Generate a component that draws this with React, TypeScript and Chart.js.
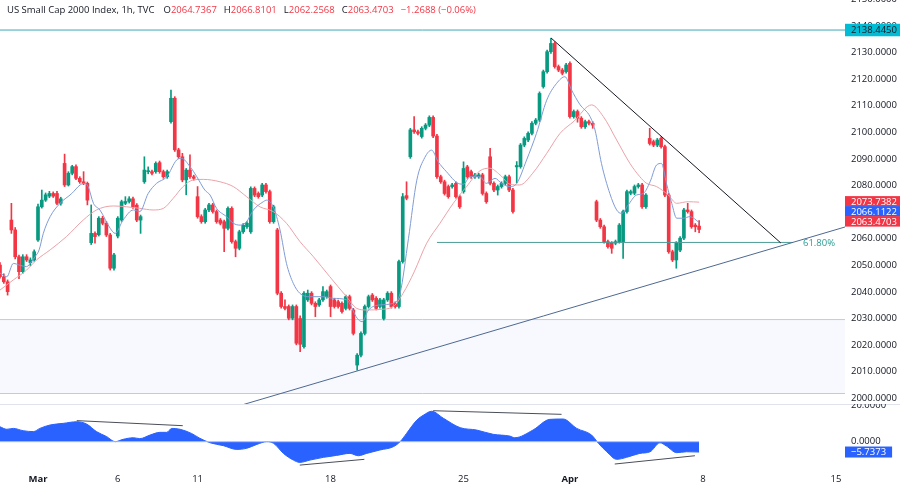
import React, { useEffect, useRef } from 'react';
import { Chart, registerables } from 'chart.js';

Chart.register(...registerables);

const FONT = '"Open Sans", "Noto Sans", sans-serif';
const FS = 9.5;
const TEXT = '#131722';
const GREEN = '#089981';
const RED = '#f23645';
const TAG_BLUE = '#2962ff';
const TAG_CYAN = '#00bcd4';

// ---------- data ----------
const FIRST_BAR = -10; // bar index of first candle (0 = first bar of 1 March)

const opens = [2050.1,2045.7,2043.8,2067.0,2063.3,2053.2,2047.6,2053.2,2051.0,2052.0,
 2059.5,2072.0,2074.5,2076.0,2077.0,2077.0,2073.3,2088.3,2080.2,2084.6,
 2087.1,2082.7,2081.4,2080.8,2058.5,2062.0,2061.5,2067.7,2065.8,2061.4,
 2048.9,2061.0,2067.0,2073.3,2074.0,2075.0,2072.6,2067.0,2081.4,2085.2,
 2085.2,2085.2,2088.6,2085.2,2083.3,2104.0,2112.8,2093.4,2090.8,2082.1,
 2085.8,2083.3,2075.8,2068.3,2066.4,2070.8,2072.7,2070.2,2067.0,2066.4,
 2063.9,2071.4,2058.9,2056.4,2062.6,2064.5,2062.6,2078.9,2077.0,2076.4,
 2080.2,2077.7,2066.4,2063.3,2039.5,2034.5,2034.5,2030.1,2034.5,2030.0,
 2019.4,2037.0,2039.5,2035.7,2035.1,2037.0,2038.2,2042.0,2037.0,2036.3,
 2035.7,2033.8,2038.2,2033.2,2012.5,2016.2,2024.4,2034.5,2038.8,2037.6,
 2034.5,2030.0,2037.0,2039.5,2035.7,2034.5,2051.4,2076.2,2090.8,2100.9,
 2100.2,2098.4,2101.5,2102.7,2105.6,2098.6,2083.3,2081.4,2079.6,2079.6,
 2080.8,2075.8,2077.7,2087.0,2085.2,2083.3,2083.3,2084.0,2077.0,2090.8,
 2080.8,2078.3,2079.6,2080.8,2083.3,2078.3,2087.0,2087.1,2095.2,2097.1,
 2099.6,2103.4,2104.6,2117.2,2122.8,2130.3,2133.4,2124.7,2123.4,2122.8,
 2125.9,2105.9,2107.8,2105.3,2102.1,2104.0,2103.4,2073.9,2067.0,2064.5,
 2058.9,2058.3,2058.3,2058.9,2058.9,2070.2,2077.1,2077.1,2079.6,2080.2,
 2072.0,2097.7,2096.5,2095.2,2097.7,2094.6,2076.4,2055.1,2052.0,2055.7,
 2060.2,2070.8,2070.2,2065.1,2064.7367];

const highs = [2051.0,2046.8,2044.5,2073.3,2064.2,2053.8,2054.0,2054.0,2052.8,2055.8,
 2073.0,2078.3,2077.2,2077.8,2077.6,2077.8,2075.6,2091.8,2085.2,2087.6,
 2087.8,2083.3,2085.2,2081.3,2072.7,2062.6,2068.3,2068.4,2066.5,2062.0,
 2054.5,2068.3,2074.5,2075.8,2075.8,2075.6,2073.2,2068.9,2090.8,2087.0,
 2085.8,2088.9,2089.2,2085.8,2085.8,2115.9,2113.4,2094.0,2092.1,2086.4,
 2091.5,2083.9,2079.6,2069.0,2071.4,2073.3,2073.3,2070.8,2067.6,2067.0,
 2072.0,2072.0,2059.5,2063.2,2065.7,2066.4,2079.5,2079.5,2077.6,2080.8,
 2080.8,2078.3,2072.6,2063.9,2040.1,2037.0,2035.1,2035.1,2035.1,2031.0,
 2040.1,2040.7,2040.1,2036.3,2037.6,2042.0,2040.7,2042.6,2037.6,2036.9,
 2036.3,2038.8,2038.8,2033.8,2016.8,2025.0,2035.1,2038.8,2039.4,2038.2,
 2037.6,2037.6,2040.1,2040.1,2036.3,2052.0,2077.0,2081.4,2101.5,2105.9,
 2100.8,2102.1,2103.3,2106.2,2106.2,2099.2,2083.9,2082.0,2080.2,2080.8,
 2081.4,2076.4,2088.9,2087.6,2085.8,2084.6,2084.6,2084.6,2077.6,2094.0,
 2081.4,2080.2,2081.4,2083.9,2083.9,2078.9,2089.0,2095.8,2098.3,2100.2,
 2104.0,2105.2,2115.2,2123.4,2130.9,2135.3,2134.0,2125.3,2124.0,2125.9,
 2126.5,2108.4,2108.4,2105.9,2104.6,2104.6,2104.0,2074.5,2067.6,2065.1,
 2059.5,2058.9,2059.5,2065.7,2070.8,2078.3,2078.3,2080.2,2080.8,2080.8,
 2077.0,2101.5,2097.1,2097.7,2098.3,2095.2,2077.0,2055.7,2058.9,2060.8,
 2071.4,2073.3,2070.8,2065.7,2066.8101];

const lows = [2045.2,2043.2,2038.8,2062.0,2052.4,2045.0,2047.0,2051.4,2049.8,2051.5,
 2059.0,2071.5,2074.0,2075.4,2075.5,2072.8,2072.6,2079.6,2079.8,2084.0,
 2082.2,2080.8,2080.3,2072.7,2057.8,2058.3,2061.0,2065.2,2060.8,2048.2,
 2048.2,2060.3,2066.5,2072.8,2073.4,2071.4,2066.4,2062.0,2080.8,2084.4,
 2084.0,2084.6,2084.6,2082.7,2082.7,2103.4,2092.8,2090.2,2081.4,2076.5,
 2082.7,2082.0,2067.7,2065.8,2065.8,2070.2,2069.6,2065.8,2065.2,2055.1,
 2063.3,2058.3,2053.2,2055.8,2062.0,2063.9,2062.0,2075.8,2075.2,2075.8,
 2077.1,2065.8,2065.8,2038.9,2033.9,2033.2,2029.5,2029.5,2020.1,2017.5,
 2018.8,2036.4,2035.1,2030.7,2034.5,2036.4,2037.6,2030.7,2033.9,2033.9,
 2032.0,2033.2,2033.2,2023.8,2010.6,2015.6,2023.8,2033.9,2036.4,2033.2,
 2033.9,2029.4,2036.4,2033.9,2033.9,2033.9,2050.8,2074.6,2090.2,2099.6,
 2099.0,2097.8,2100.9,2102.1,2098.0,2082.7,2080.8,2076.4,2075.2,2079.0,
 2075.2,2071.4,2077.1,2082.7,2082.7,2082.7,2082.7,2076.4,2073.3,2080.2,
 2077.7,2076.4,2079.0,2080.2,2077.7,2069.6,2081.0,2086.5,2094.6,2096.5,
 2099.0,2102.8,2104.0,2116.6,2122.2,2129.7,2124.1,2122.8,2121.6,2122.2,
 2105.3,2105.3,2103.8,2101.5,2101.5,2102.8,2101.5,2066.4,2063.9,2058.3,
 2056.4,2054.5,2057.7,2058.3,2052.6,2069.6,2076.5,2076.5,2079.0,2071.4,
 2071.4,2095.2,2094.6,2094.6,2094.0,2075.8,2054.5,2051.4,2048.9,2055.1,
 2059.6,2069.6,2063.9,2062.6,2062.2568];

const closes = [2045.7,2043.8,2040.1,2063.3,2053.2,2047.6,2053.2,2052.0,2052.0,2055.1,
 2072.0,2074.5,2076.5,2077.0,2076.0,2073.3,2075.0,2080.2,2084.6,2087.1,
 2082.7,2081.4,2080.8,2074.5,2062.0,2060.8,2067.7,2065.8,2061.4,2048.9,
 2053.9,2067.7,2073.9,2074.0,2075.0,2072.0,2067.0,2068.3,2085.8,2085.3,
 2084.6,2088.3,2085.2,2083.3,2085.2,2112.8,2093.4,2090.8,2082.1,2085.8,
 2083.3,2082.7,2068.3,2066.4,2070.8,2072.7,2070.2,2066.4,2065.8,2063.9,
 2071.4,2058.9,2056.4,2062.6,2065.1,2065.8,2078.9,2076.4,2075.8,2080.2,
 2077.7,2066.4,2072.0,2039.5,2034.5,2033.8,2030.1,2034.5,2020.7,2020.3,
 2039.5,2039.5,2035.7,2034.5,2037.0,2040.1,2040.1,2034.5,2034.5,2034.5,
 2032.6,2038.2,2033.8,2024.4,2016.2,2024.4,2034.5,2038.2,2037.0,2033.8,
 2037.0,2037.0,2039.5,2034.5,2034.5,2051.4,2075.8,2075.2,2100.9,2100.2,
 2099.6,2101.5,2102.7,2105.6,2098.6,2083.3,2081.4,2077.0,2075.8,2080.2,
 2075.8,2072.0,2086.4,2083.3,2083.3,2084.0,2084.0,2077.0,2073.9,2080.8,
 2078.3,2079.6,2080.8,2083.3,2078.3,2070.2,2087.5,2095.2,2097.7,2099.6,
 2103.4,2104.6,2114.6,2122.8,2130.3,2133.4,2124.7,2123.4,2122.2,2125.3,
 2105.9,2107.8,2105.3,2102.1,2104.0,2103.4,2102.7,2067.0,2064.5,2058.9,
 2057.0,2056.4,2058.9,2065.1,2070.2,2077.7,2077.7,2079.6,2080.2,2072.0,
 2076.4,2095.8,2095.2,2097.1,2094.6,2076.4,2055.1,2052.0,2058.3,2060.2,
 2070.8,2070.2,2064.5,2064.5,2063.4703];

// moving averages as [bar index, value]
const fastMa: [number, number][] = [
 [-10, 2047.1], [-8.2, 2045.7], [-6.5, 2050.7], [-4.7, 2050.0], [-3, 2049.5], [-1.7, 2051.4], [-0.8, 2053.2], [0.3, 2055.8],
 [1.4, 2062.0], [3.2, 2068.3], [5.8, 2073.3], [8.9, 2077.0], [11.1, 2080.2], [12.4, 2080.8], [13.2, 2079.6], [14.6, 2073.3],
 [16.3, 2070.8], [19, 2063.9], [20.3, 2062.0], [22.4, 2067.0], [25.1, 2070.8], [26.8, 2070.2], [29, 2077.0], [31.2, 2080.8],
 [33.9, 2083.3], [36.5, 2089.6], [37.8, 2090.2], [40, 2087.1], [41.8, 2083.3], [43.9, 2078.3], [45.3, 2076.4], [47, 2071.4],
 [49.6, 2068.3], [51.4, 2065.8], [53.2, 2065.1], [54.9, 2066.4], [56.7, 2070.8], [59.3, 2073.9], [60.2, 2074.5], [61.9, 2072.0],
 [63.7, 2063.3], [65.4, 2050.7], [67.2, 2043.2], [68.9, 2039.5], [71.6, 2038.2], [75, 2038.2], [77.7, 2037.6], [81.2, 2037.0],
 [84, 2030.1], [85.3, 2028.8], [87, 2033.2], [90, 2035.1], [93.5, 2035.7], [95.3, 2039.5], [97.5, 2060.0], [99.7, 2082.0],
 [101.8, 2090.5], [103.6, 2093.3], [105.3, 2089.0], [107.5, 2085.2], [110.6, 2080.8], [112, 2080.5], [113.7, 2083.3], [116.3, 2083.3],
 [118, 2080.8], [120.3, 2082.7], [122, 2080.8], [124.2, 2079.6], [126, 2080.8], [128.6, 2089.6], [131.2, 2099.6], [133.9, 2112.1],
 [136.5, 2118.4], [138.7, 2120.9], [140.4, 2116.0], [142.6, 2110.5], [145.3, 2105.9], [146.6, 2100.9], [148.3, 2088.3], [150.5, 2077.0],
 [152.3, 2070.8], [153.6, 2069.5], [155.3, 2072.6], [157.5, 2076.4], [159.3, 2077.0], [161.1, 2081.4], [162.8, 2087.7], [164.1, 2088.3],
 [165.4, 2080.8], [166.8, 2073.3], [168.1, 2067.7], [169.8, 2067.7], [171.6, 2068.3], [174, 2066.1122],
];

const slowMa: [number, number][] = [
 [-10, 2040.7], [-6.5, 2044.5], [-3, 2048.2], [-0.4, 2052.0], [3.2, 2055.8], [7.5, 2060.8], [11.9, 2067.0], [15.4, 2070.8],
 [19.8, 2072.3], [23.3, 2072.0], [26.8, 2071.4], [30.3, 2070.8], [33, 2071.4], [35.6, 2075.2], [38.2, 2079.6], [40.9, 2082.1],
 [43.5, 2082.3], [47.9, 2081.4], [51.4, 2079.6], [54.9, 2075.8], [58.4, 2072.0], [61.9, 2070.2], [65.4, 2065.8], [68.9, 2059.0],
 [72.5, 2053.2], [76.8, 2045.7], [81.2, 2038.2], [83.9, 2033.8], [86.5, 2033.2], [90, 2033.4], [93.5, 2034.5], [96.1, 2039.5],
 [99, 2047.5], [102.3, 2058.3], [105.8, 2065.8], [109.3, 2073.3], [112.8, 2079.6], [116.3, 2085.5], [118.9, 2086.5], [121.6, 2084.0],
 [124.2, 2080.5], [126.8, 2080.2], [130.2, 2084.6], [133.9, 2092.1], [137.4, 2099.6], [141.1, 2104.2], [145.7, 2110.3], [148.8, 2105.9],
 [152.3, 2097.1], [155.8, 2088.3], [158.4, 2083.3], [160.2, 2080.8], [162.8, 2079.6], [165.9, 2076.4], [168.1, 2073.3], [171.1, 2073.9],
 [174, 2073.7382],
];

// lower-pane oscillator as [bar index, value]
const oscillator: [number, number][] = [
 [-10, 8.3], [-8.2, 6.9], [-6.5, 7.4], [-3.9, 6.1], [-1.2, 5.6], [0.5, 7.4], [3.2, 9.3], [6.7, 10.2], [10.2, 11.1], [12.8, 9.8],
 [15.4, 5.6], [18.1, 2.8], [20.3, 0.0], [22.4, 1.3], [25.1, 2.2], [26.8, 1.7], [29.5, 3.7], [32.1, 5.2], [33.9, 5.2], [35.2, 7.4],
 [37.4, 6.9], [40.4, 4.6], [42.6, 1.9], [45.3, -0.6], [48.8, -2.2], [52.3, -4.3], [54.9, -3.7], [57.6, -1.5], [60.2, 0.0], [62, -0.9],
 [64.6, -6.5], [67.2, -10.2], [68.9, -11.5], [71.6, -10.2], [75.1, -8.7], [78.6, -7.6], [82.1, -6.5], [84.3, -7.8], [86.5, -6.5], [90, -4.6],
 [93.5, -2.8], [95.3, 0.0], [97, 4.6], [99.7, 12.0], [101.5, 14.8], [103.6, 16.9], [106.7, 13.0], [111.1, 7.8], [115.4, 6.5], [119.8, 4.1],
 [124.2, 3.1], [125.5, 2.2], [130.3, 6.5], [134.7, 12.4], [138.2, 12.6], [141.8, 7.4], [145.7, 3.7], [147.5, -0.9], [149.7, -5.6], [152.3, -9.8],
 [154.9, -8.7], [158.4, -6.5], [161.1, -5.6], [163.7, -0.6], [165.4, -2.4], [168.1, -6.1], [170.7, -5.6], [174, -5.7373],
];

const oscDivergences: [number, number][][] = [
 [[10.2, 11.7], [38.1, 8.9]],
 [[68.9, -13.0], [85.9, -9.8]],
 [[104, 17.2], [137.8, 15.2]],
 [[151.8, -12.4], [172.9, -7.8]],
];

// drawings on the price pane
const resistanceLevel = 2138.445;
const fibLevel = 2058.6;
const fibRange: [number, number] = [105, 198.7];
const fibLabel = '61.80%';
const zoneTop = 2029.6;
const zoneBottom = 2001.8;
const descTrend: [number, number][] = [[135, 2135.5], [195.5, 2058.4]];
const ascTrend: [number, number][] = [[53.7, 1997.5], [212.4, 2064.4]];

// axes
const xTickPositions = [0, 21, 42, 77, 112, 140, 175, 210];
const xTickLabels = ['Mar', '6', '11', '18', '25', 'Apr', '8', '15'];
const monthTicks = ['Mar', 'Apr'];
const priceTicks = [2000, 2010, 2020, 2030, 2040, 2050, 2060, 2070, 2080, 2090, 2100, 2110, 2120, 2130, 2140, 2150];
const oscTicks = [0, 20];
const X_MIN = -10;
const X_MAX = 212.4;
const PRICE_MIN = 1997.857;
const PRICE_MAX = 2149.737;
const OSC_MIN = -14.61;
const OSC_MAX = 20.94;

const titleParts = { name: 'US Small Cap 2000 Index, 1h, TVC', o: '2064.7367', h: '2066.8101', l: '2062.2568', c: '2063.4703', chg: '−1.2688 (−0.06%)' };

// ---------- helpers ----------
const pts = (arr: [number, number][]) => arr.map(([x, y]) => ({ x, y }));
const fmt = (v: number) => (v < 0 ? '−' : '') + Math.abs(v).toFixed(4);

const fixRightAxis = (s: any) => {
  s.width = 55;
  s.paddingTop = 0;
  s.paddingBottom = 0;
};

export default function App() {
  const mainRef = useRef<HTMLCanvasElement>(null);
  const oscRef = useRef<HTMLCanvasElement>(null);

  useEffect(() => {
    document.body.style.margin = '0';
    Chart.defaults.font.family = FONT;
    Chart.defaults.font.size = FS;
    Chart.defaults.color = TEXT;

    const lastIdx = closes.length - 1;
    const stackTags = [
      { value: slowMa[slowMa.length - 1][1], bg: RED, fg: '#ffffff' },
      { value: fastMa[fastMa.length - 1][1], bg: TAG_BLUE, fg: '#ffffff' },
      { value: closes[lastIdx], bg: RED, fg: '#ffffff' },
    ];

    const tagPlugin = {
      id: 'priceTags',
      afterDraw(chart: any) {
        const { ctx, chartArea } = chart;
        const ys = chart.scales.y;
        const xs = chart.scales.x;
        ctx.save();
        ctx.font = `${FS}px ${FONT}`;
        ctx.textBaseline = 'middle';
        ctx.textAlign = 'left';
        const drawTag = (cy: number, text: string, bg: string, fg: string, h: number) => {
          ctx.fillStyle = bg;
          ctx.fillRect(chartArea.right, cy - h / 2, 900 - chartArea.right, h);
          ctx.fillStyle = fg;
          ctx.fillText(text, chartArea.right + 6, cy + 0.5);
        };
        drawTag(ys.getPixelForValue(resistanceLevel), resistanceLevel.toFixed(4), TAG_CYAN, TEXT, 12.5);
        // last-value tags stacked under the top one, as the price scale does
        const top = ys.getPixelForValue(stackTags[0].value) - 0.8;
        stackTags.forEach((t, k) => {
          drawTag(top + k * 10, t.value.toFixed(4), t.bg, t.fg, 10.5);
        });
        // fib label
        ctx.fillStyle = '#2a9d93';
        ctx.fillText(fibLabel, xs.getPixelForValue(fibRange[1]) + 10, ys.getPixelForValue(fibLevel) + 0.5);
        ctx.restore();
      },
    };

    const main = new Chart(mainRef.current as HTMLCanvasElement, {
      type: 'bar',
      data: {
        datasets: [
          {
            type: 'line', data: pts(fastMa), borderColor: '#7f9bd6', borderWidth: 1, pointRadius: 0,
            cubicInterpolationMode: 'monotone', fill: false, order: 1,
          },
          {
            type: 'line', data: pts(slowMa), borderColor: '#eba2a8', borderWidth: 1, pointRadius: 0,
            cubicInterpolationMode: 'monotone', fill: false, order: 1,
          },
          {
            type: 'line', data: pts(descTrend), borderColor: '#131722', borderWidth: 1, pointRadius: 0, fill: false, order: 0,
          },
          {
            type: 'line', data: pts(ascTrend), borderColor: '#4d6891', borderWidth: 1, pointRadius: 0, fill: false, order: 0,
          },
          {
            type: 'line', data: [{ x: fibRange[0], y: fibLevel }, { x: fibRange[1], y: fibLevel }],
            borderColor: '#4c9c98', borderWidth: 1, pointRadius: 0, fill: false, order: 0,
          },
          {
            type: 'line', data: [{ x: X_MIN, y: resistanceLevel }, { x: X_MAX, y: resistanceLevel }],
            borderColor: '#3aa9ba', borderWidth: 1, pointRadius: 0, fill: false, order: 8,
          },
          {
            type: 'bar',
            data: opens.map((o, k) => ({ x: FIRST_BAR + k, y: [lows[k], highs[k]] })),
            backgroundColor: (c: any) => (closes[c.dataIndex] >= opens[c.dataIndex] ? GREEN : RED),
            barThickness: 1, grouped: false, borderWidth: 0, order: 4,
          },
          {
            type: 'bar',
            data: opens.map((o, k) => ({ x: FIRST_BAR + k, y: [o, closes[k]] })),
            backgroundColor: (c: any) => (closes[c.dataIndex] >= opens[c.dataIndex] ? GREEN : RED),
            barThickness: 3, grouped: false, borderWidth: 0, minBarLength: 1, order: 3,
          },
          {
            type: 'line', data: [{ x: X_MIN, y: zoneTop }, { x: X_MAX, y: zoneTop }],
            borderColor: '#c6cad3', borderWidth: 1, pointRadius: 0, fill: false, order: 10,
          },
          {
            type: 'line', data: [{ x: X_MIN, y: zoneBottom }, { x: X_MAX, y: zoneBottom }],
            borderColor: '#c6cad3', borderWidth: 1, pointRadius: 0, fill: '-1',
            backgroundColor: 'rgba(41, 98, 255, 0.035)', order: 10,
          },
        ] as any,
      },
      options: {
        animation: false,
        responsive: true,
        maintainAspectRatio: false,
        events: [],
        layout: { padding: 0 },
        plugins: { legend: { display: false }, tooltip: { enabled: false } },
        scales: {
          x: { type: 'linear', min: X_MIN, max: X_MAX, display: false, offset: false, grid: { display: false } },
          y: {
            position: 'right', min: PRICE_MIN, max: PRICE_MAX,
            grid: { display: false, drawTicks: false }, border: { display: false },
            afterBuildTicks: (s: any) => { s.ticks = priceTicks.map((v) => ({ value: v })); },
            afterFit: fixRightAxis,
            ticks: { autoSkip: false, padding: 6, color: TEXT, callback: (v: any) => Number(v).toFixed(4) },
          },
        },
      } as any,
      plugins: [tagPlugin],
    });

    const oscPlugin = {
      id: 'oscExtras',
      beforeDraw(chart: any) {
        const { ctx } = chart;
        ctx.save();
        ctx.strokeStyle = '#e0e3eb';
        ctx.lineWidth = 1;
        ctx.beginPath();
        ctx.moveTo(0, 0.5);
        ctx.lineTo(900, 0.5);
        ctx.stroke();
        ctx.restore();
      },
      afterDraw(chart: any) {
        const { ctx, chartArea } = chart;
        const ys = chart.scales.y;
        const v = oscillator[oscillator.length - 1][1];
        const cy = ys.getPixelForValue(v);
        ctx.save();
        ctx.font = `${FS}px ${FONT}`;
        ctx.textBaseline = 'middle';
        ctx.textAlign = 'left';
        const text = fmt(v);
        const w = ctx.measureText(text).width + 12;
        ctx.fillStyle = TAG_BLUE;
        ctx.fillRect(chartArea.right, cy - 5.5, w, 11);
        ctx.fillStyle = '#ffffff';
        ctx.fillText(text, chartArea.right + 6, cy + 0.5);
        ctx.restore();
      },
    };

    const osc = new Chart(oscRef.current as HTMLCanvasElement, {
      type: 'line',
      data: {
        datasets: [
          ...oscDivergences.map((seg) => ({
            data: pts(seg), borderColor: '#4a4e59', borderWidth: 1, pointRadius: 0, fill: false, order: 0,
          })),
          {
            data: pts(oscillator), borderColor: '#2962ff', backgroundColor: '#2962ff', borderWidth: 1,
            pointRadius: 0, cubicInterpolationMode: 'monotone', fill: 'origin', order: 2,
          },
          {
            data: [{ x: oscillator[0][0], y: 0 }, { x: oscillator[oscillator.length - 1][0], y: 0 }],
            borderColor: '#a9c0f7', borderWidth: 1, pointRadius: 0, fill: false, order: 1,
          },
        ] as any,
      },
      options: {
        animation: false,
        responsive: true,
        maintainAspectRatio: false,
        events: [],
        layout: { padding: 0 },
        plugins: { legend: { display: false }, tooltip: { enabled: false } },
        scales: {
          x: {
            type: 'linear', min: X_MIN, max: X_MAX, offset: false,
            grid: { display: false, drawTicks: false }, border: { display: false },
            afterBuildTicks: (s: any) => { s.ticks = xTickPositions.map((v) => ({ value: v })); },
            afterFit: (s: any) => { s.height = 20; s.paddingLeft = 0; s.paddingRight = 0; },
            ticks: {
              autoSkip: false, maxRotation: 0, minRotation: 0, padding: 6, color: TEXT,
              callback: (_v: any, i: number) => xTickLabels[i],
              font: (c: any) => ({ family: FONT, size: FS, weight: monthTicks.includes(xTickLabels[c.index]) ? 'bold' : 'normal' }),
            },
          },
          y: {
            position: 'right', min: OSC_MIN, max: OSC_MAX,
            grid: { display: false, drawTicks: false }, border: { display: false },
            afterBuildTicks: (s: any) => { s.ticks = oscTicks.map((v) => ({ value: v })); },
            afterFit: fixRightAxis,
            ticks: { autoSkip: false, padding: 6, color: TEXT, callback: (v: any) => fmt(Number(v)) },
          },
        },
      } as any,
      plugins: [oscPlugin],
    });

    return () => {
      main.destroy();
      osc.destroy();
    };
  }, []);

  const red = { color: RED };
  const gap = { marginLeft: 7 };
  return (
    <div style={{ position: 'fixed', left: 0, top: 0, width: 900, height: 488, background: '#ffffff', overflow: 'hidden' }}>
      <div style={{ position: 'absolute', left: 0, top: 0, width: 900, height: 404 }}>
        <canvas ref={mainRef} />
      </div>
      <div style={{ position: 'absolute', left: 0, top: 404, width: 900, height: 84 }}>
        <canvas ref={oscRef} />
      </div>
      <div style={{ position: 'absolute', left: 7, top: 3, fontFamily: FONT, fontSize: FS, color: TEXT, whiteSpace: 'nowrap', lineHeight: '13px' }}>
        <span>{titleParts.name}</span>
        <span style={{ marginLeft: 9 }}>O<span style={red}>{titleParts.o}</span></span>
        <span style={gap}>H<span style={red}>{titleParts.h}</span></span>
        <span style={gap}>L<span style={red}>{titleParts.l}</span></span>
        <span style={gap}>C<span style={red}>{titleParts.c}</span></span>
        <span style={{ ...gap, ...red }}>{titleParts.chg}</span>
      </div>
    </div>
  );
}
